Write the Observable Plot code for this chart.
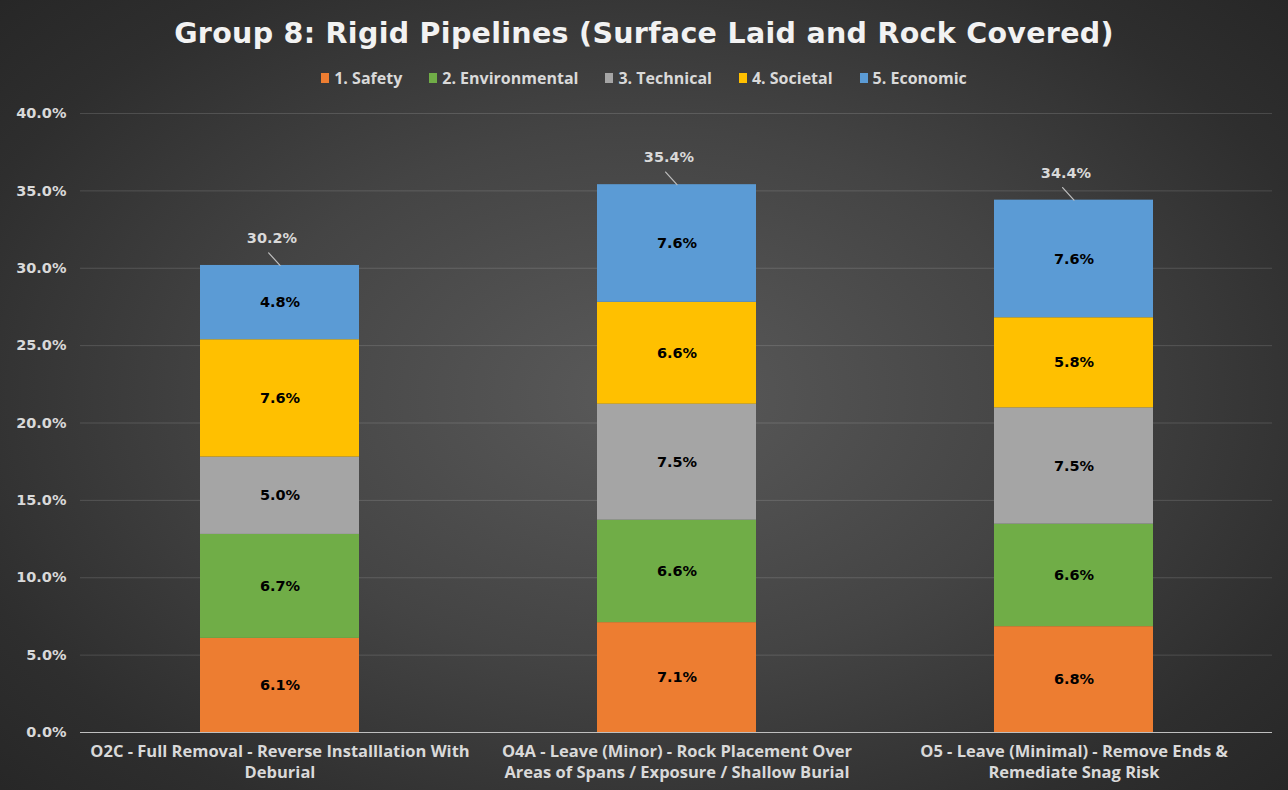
<!DOCTYPE html>
<html>
<head>
<meta charset="utf-8">
<script src="https://cdn.jsdelivr.net/npm/d3@7"></script>
<script src="https://cdn.jsdelivr.net/npm/@observablehq/plot@0.6"></script>
<style>
  html, body { margin: 0; padding: 0; }
  body { width: 1288px; height: 790px; overflow: hidden; }
  #wrap {
    position: relative; width: 1288px; height: 790px;
    background: radial-gradient(ellipse 70% 75% at 50% 50%, #5a5a5a 0%, #444 45%, #2e2e2e 80%, #262626 100%);
  }
  #title {
    position: absolute; left: 0; width: 1288px; top: 17px; text-align: center;
    font-family: "DejaVu Sans", sans-serif; font-weight: bold; font-size: 28.5px; color: #f2f2f2;
    letter-spacing: 0.3px;
  }
  #legend {
    position: absolute; left: 0; width: 1288px; top: 67px; display: flex; justify-content: center;
    font-family: "Open Sans", sans-serif; font-weight: bold; font-size: 16px; color: #d9d9d9;
  }
  .item { display: flex; align-items: center; margin: 0 13.5px; }
  .sw { width: 8px; height: 10px; margin-right: 5px; display: inline-block; }
  #chart { position: absolute; left: 0; top: 95px; }
</style>
</head>
<body>
<div id="wrap">
  <div id="title">Group 8: Rigid Pipelines (Surface Laid and Rock Covered)</div>
  <div id="legend"></div>
  <div id="chart"></div>
</div>
<script>
const options = [
  "O2C - Full Removal - Reverse Installlation With\nDeburial",
  "O4A - Leave (Minor) - Rock Placement Over\nAreas of Spans / Exposure / Shallow Burial",
  "O5 - Leave (Minimal) - Remove Ends &\nRemediate Snag Risk"
];
const criteria = ["1. Safety", "2. Environmental", "3. Technical", "4. Societal", "5. Economic"];
const colors = ["#ED7D31", "#70AD47", "#A5A5A5", "#FFC000", "#5B9BD5"];
// values in percent, per criterion, per option (same order as options)
const safety        = [6.08, 7.10, 6.84];
const environmental = [6.72, 6.62, 6.62];
const technical     = [5.00, 7.50, 7.52];
const societal      = [7.58, 6.58, 5.82];
const economic      = [4.80, 7.60, 7.60];
const yTicks = [0, 5, 10, 15, 20, 25, 30, 35, 40];

const series = [safety, environmental, technical, societal, economic];
const data = [];
criteria.forEach((c, i) => options.forEach((o, j) => data.push({option: o, criterion: c, value: series[i][j]})));
const totals = options.map((o, j) => ({option: o, total: d3.sum(series, s => s[j])}));

// legend
const legend = document.getElementById("legend");
criteria.forEach((c, i) => {
  const it = document.createElement("div");
  it.className = "item";
  it.innerHTML = `<span class="sw" style="background:${colors[i]}"></span><span>${c}</span>`;
  legend.appendChild(it);
});

const lineShape = {draw(context, l) { context.moveTo(0, 0); context.lineTo(0, -l); }};

const chart = Plot.plot({
  width: 1288,
  height: 695,
  marginLeft: 80,
  marginRight: 16,
  marginTop: 18,
  marginBottom: 58,
  style: {background: "transparent", overflow: "visible"},
  x: {domain: options, paddingInner: 0.6, paddingOuter: 0.3, label: null},
  y: {domain: [0, 40], label: null},
  color: {domain: criteria, range: colors},
  marks: [
    Plot.gridY(yTicks, {stroke: "#ffffff", strokeOpacity: 0.14, strokeWidth: 1}),
    Plot.axisY(yTicks, {tickSize: 0, tickPadding: 14, tickFormat: d => d.toFixed(1) + "%",
      fontFamily: "DejaVu Sans", fontWeight: "bold", fontSize: 14.5, fill: "#d9d9d9", label: null}),
    Plot.axisX({tickSize: 0, tickPadding: 9, lineHeight: 1.3, fontFamily: "Open Sans", fontWeight: "bold",
      fontSize: 16.5, fill: "#d9d9d9", label: null}),
    Plot.barY(data, {x: "option", y: "value", fill: "criterion", order: criteria}),
    Plot.ruleY([0], {stroke: "#bfbfbf", strokeWidth: 1.2}),
    Plot.text(data, Plot.stackY({x: "option", y: "value", z: "criterion", order: criteria,
      text: d => d.value.toFixed(1) + "%", fill: "#000", fontFamily: "DejaVu Sans", fontWeight: "bold", fontSize: 14.5})),
    Plot.vector(totals, {x: "option", y: "total", length: 17, rotate: -42, anchor: "start",
      shape: lineShape, stroke: "#bfbfbf", strokeWidth: 1.2}),
    Plot.text(totals, {x: "option", y: "total", dy: -27, dx: -8, text: d => d.total.toFixed(1) + "%",
      fill: "#d9d9d9", fontFamily: "DejaVu Sans", fontWeight: "bold", fontSize: 14.5})
  ]
});
document.getElementById("chart").appendChild(chart);
</script>
</body>
</html>
